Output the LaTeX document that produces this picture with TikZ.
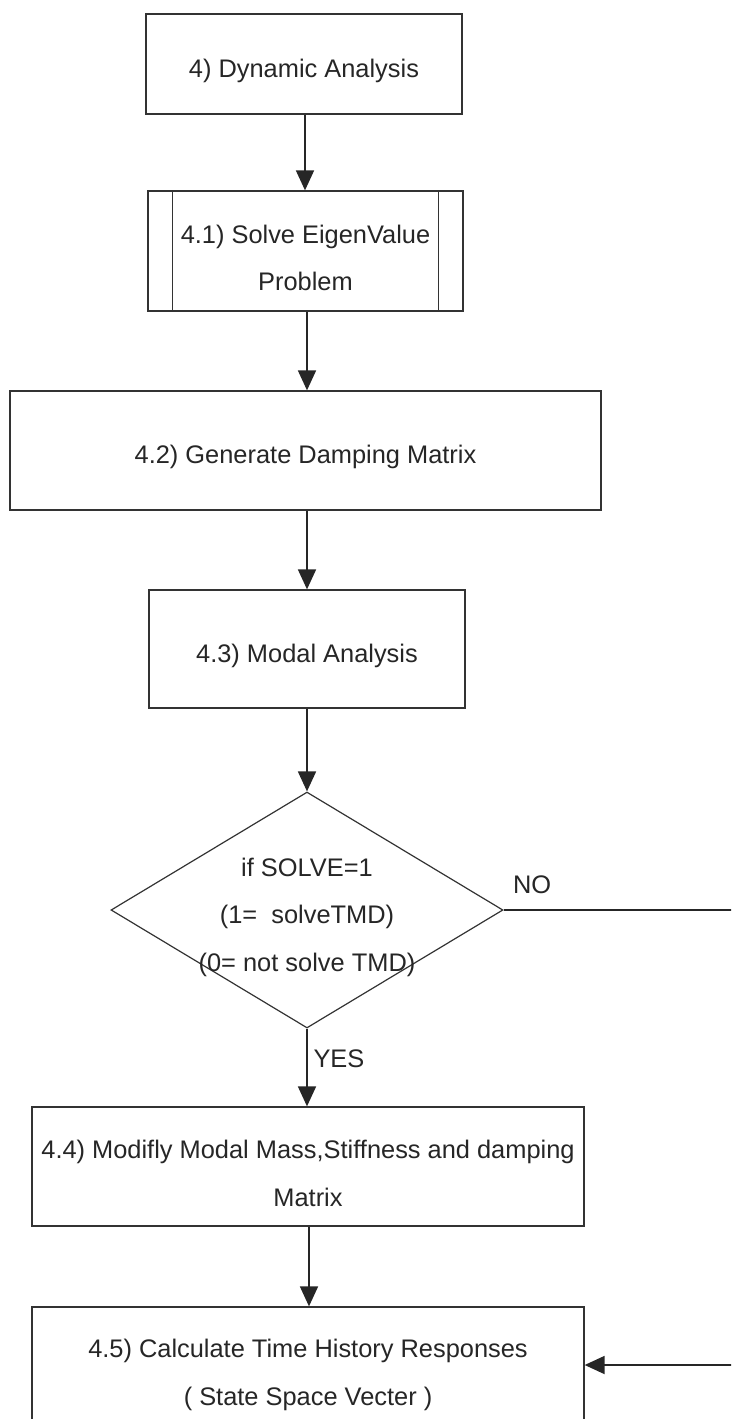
\documentclass[tikz,border=0pt]{standalone}
\usepackage{fontspec}
\setmainfont{Liberation Sans}
\usetikzlibrary{arrows.meta,shapes.geometric}
\newcommand\liftline[1]{\rule{0pt}{#1}}
\begin{document}
\begin{tikzpicture}[x=1pt,y=-1pt,
  every node/.style={font=\fontsize{25.4}{47.5}\selectfont, text=black!85},
  box/.style={draw=black!80, line width=1.3pt, rectangle, inner sep=0pt, align=center},
  lowtext/.style={execute at begin node={\rule{0pt}{#1}}},
  lowtext/.default=32pt,
  link/.style={draw=black!85, line width=1.8pt, -{Triangle[length=20pt,width=18pt]}},
]
\useasboundingbox (0,0) rectangle (731,1419);
\clip (0,0) rectangle (731,1419);

% process boxes
\node[box, lowtext, minimum width=316pt, minimum height=100pt] (b1) at (304,64) {4) Dynamic Analysis};
\node[box, minimum width=315pt, minimum height=120pt] (b2) at (305.5,251) {\liftline{32pt}4.1) Solve EigenValue\\Problem};
\node[box, lowtext, minimum width=591pt, minimum height=119pt] (b3) at (305.5,450.5) {4.2) Generate Damping Matrix};
\node[box, lowtext, minimum width=316pt, minimum height=118pt] (b4) at (307,649) {4.3) Modal Analysis};
\node[box, minimum width=552pt, minimum height=119pt] (b5) at (308,1166.5) {\liftline{32pt}4.4) Modifly Modal Mass,Stiffness and damping\\Matrix};
\node[box, minimum width=552pt, minimum height=136pt] (b6) at (308,1375) {4.5) Calculate Time History Responses\\( State Space Vecter )};

% predefined-process side bars
\draw[draw=black!80, line width=1.3pt]
  ([xshift=25pt]b2.north west) -- ([xshift=25pt]b2.south west)
  ([xshift=-25pt]b2.north east) -- ([xshift=-25pt]b2.south east);

% decision
\node[diamond, draw=black!80, line width=1.2pt, minimum width=392pt, minimum height=236pt, inner sep=0pt] (dia) at (307,910) {};
\node[align=center] (dt) at (307,917) {if SOLVE=1\\(1=\ \ solveTMD)\\(0= not solve TMD)};

% connectors
\draw[link] (b1.south -| 305,0) -- (b2.north -| 305,0);
\draw[link] (b2.south -| 307,0) -- (b3.north -| 307,0);
\draw[link] (b3.south -| 307,0) -- (b4.north -| 307,0);
\draw[link] (b4.south -| 307,0) -- (dia.north);
\draw[link] (dia.south) -- (dia.south |- b5.north);
\draw[link] (b5.south -| 309,0) -- (b6.north -| 309,0);

\coordinate (nr) at (736,910);
\draw[link] (dia.east) -- (nr) |- ([yshift=10pt]b6.east);

\node[anchor=base west] (no) at ([xshift=6pt,yshift=17pt]dia.east) {NO};
\node[anchor=base west] (yes) at ([xshift=3pt,yshift=-39pt]dia.south) {YES};
\end{tikzpicture}
\end{document}
